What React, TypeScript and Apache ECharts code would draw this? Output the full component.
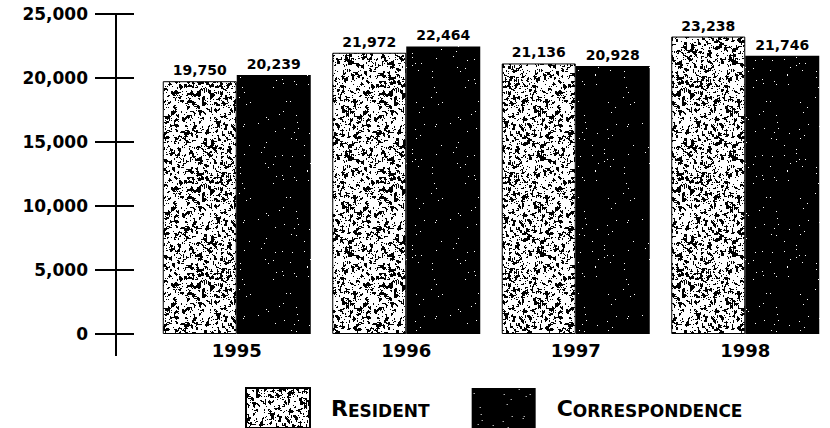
import React, { useEffect, useRef } from "react";
import * as echarts from "echarts";

const years = ["1995", "1996", "1997", "1998"];
const resident = [19750, 21972, 21136, 23238];
const correspondence = [20239, 22464, 20928, 21746];
const seriesNames = ["Resident", "Correspondence"];
const yMin = 0;
const yMax = 25000;
const yStep = 5000;

const FONT = "DejaVu Sans";

function lcg(seed: number) {
  let s = seed >>> 0;
  return () => {
    s = (Math.imul(s, 1664525) + 1013904223) >>> 0;
    return s / 4294967296;
  };
}

function makeStipple(): HTMLCanvasElement {
  const N = 96;
  const c = document.createElement("canvas");
  c.width = N;
  c.height = N;
  const ctx = c.getContext("2d")!;
  const r = lcg(12345);
  const f = new Float32Array(N * N);
  for (let i = 0; i < N * N; i++) f[i] = r();
  const img = ctx.createImageData(N, N);
  for (let y = 0; y < N; y++) {
    for (let x = 0; x < N; x++) {
      let s = 0;
      for (let dy = -1; dy <= 1; dy++)
        for (let dx = -1; dx <= 1; dx++)
          s += f[((y + dy + N) % N) * N + ((x + dx + N) % N)];
      s /= 9;
      const black = s > 0.56 || r() < 0.04;
      const v = black ? 0 : 255;
      const i = (y * N + x) * 4;
      img.data[i] = v;
      img.data[i + 1] = v;
      img.data[i + 2] = v;
      img.data[i + 3] = 255;
    }
  }
  ctx.putImageData(img, 0, 0);
  return c;
}

function makeDark(): HTMLCanvasElement {
  const N = 96;
  const c = document.createElement("canvas");
  c.width = N;
  c.height = N;
  const ctx = c.getContext("2d")!;
  const r = lcg(777);
  const img = ctx.createImageData(N, N);
  for (let i = 0; i < N * N; i++) {
    const v = r() < 0.008 ? 255 : 0;
    img.data[i * 4] = v;
    img.data[i * 4 + 1] = v;
    img.data[i * 4 + 2] = v;
    img.data[i * 4 + 3] = 255;
  }
  ctx.putImageData(img, 0, 0);
  return c;
}

const fmt = (v: number) => Number(v).toLocaleString("en-US");

export default function App() {
  const ref = useRef<HTMLDivElement>(null);
  useEffect(() => {
    if (!ref.current) return;
    const chart = echarts.init(ref.current, null, { renderer: "svg" });
    const stipple = makeStipple();
    const dark = makeDark();
    const stipplePattern: any = { image: stipple, repeat: "repeat", imageWidth: stipple.width, imageHeight: stipple.height };
    const darkPattern: any = { image: dark, repeat: "repeat", imageWidth: dark.width, imageHeight: dark.height };

    const labelStyle = {
      show: true,
      position: "top",
      distance: 4,
      formatter: (p: any) => fmt(p.value),
      fontFamily: FONT,
      fontWeight: "bold",
      fontSize: 14,
      color: "#000",
    };

    const yAxisBase = {
      type: "value",
      min: yMin,
      max: yMax,
      interval: yStep,
      position: "left",
      offset: 36,
      splitLine: { show: false },
    };

    chart.setOption({
      animation: false,
      backgroundColor: "#fff",
      grid: { left: 152, top: 14, bottom: 94, width: 691 },
      xAxis: {
        type: "category",
        data: years,
        axisLine: { show: false },
        axisTick: { show: false },
        axisLabel: {
          margin: 7,
          fontFamily: FONT,
          fontWeight: "bold",
          fontSize: 18,
          color: "#000",
        },
      },
      yAxis: [
        {
          ...yAxisBase,
          axisLine: { show: true, lineStyle: { color: "#000", width: 2 } },
          axisTick: { show: true, length: 21, lineStyle: { color: "#000", width: 2 } },
          axisLabel: {
            margin: 28,
            formatter: (v: number) => fmt(v),
            fontFamily: FONT,
            fontWeight: "bold",
            fontSize: 17,
            color: "#000",
          },
        },
        {
          ...yAxisBase,
          axisLine: { show: false },
          axisTick: { show: true, inside: true, length: 18, lineStyle: { color: "#000", width: 2 } },
          axisLabel: { show: false },
        },
      ],
      legend: {
        data: seriesNames,
        left: 245,
        top: 387,
        padding: 0,
        icon: "rect",
        itemWidth: 64,
        itemHeight: 40,
        itemGap: 42,
        formatter: (name: string) =>
          `{big|${name.charAt(0).toUpperCase()}}{small|${name.slice(1).toUpperCase()}}`,
        textStyle: {
          color: "#000",
          padding: [0, 0, 0, 16],
          rich: {
            big: { fontFamily: FONT, fontWeight: "bold", fontSize: 22, color: "#000", verticalAlign: "bottom", lineHeight: 23 },
            small: { fontFamily: FONT, fontWeight: "bold", fontSize: 17, color: "#000", verticalAlign: "bottom", lineHeight: 19 },
          },
        },
      },
      graphic: [
        {
          type: "line",
          shape: { x1: 116, y1: 334, x2: 116, y2: 356 },
          style: { stroke: "#000", lineWidth: 2 },
        },
      ],
      series: [
        {
          name: seriesNames[0],
          type: "bar",
          data: resident,
          barWidth: 74,
          barGap: "0%",
          itemStyle: { color: stipplePattern, borderColor: "#000", borderWidth: 1 },
          label: labelStyle,
        },
        {
          name: seriesNames[1],
          type: "bar",
          data: correspondence,
          barWidth: 74,
          barGap: "0%",
          itemStyle: { color: darkPattern },
          label: labelStyle,
        },
      ],
    });
    return () => chart.dispose();
  }, []);
  return (
    <div
      ref={ref}
      style={{ position: "absolute", left: 0, top: 0, width: 830, height: 428 }}
    />
  );
}
